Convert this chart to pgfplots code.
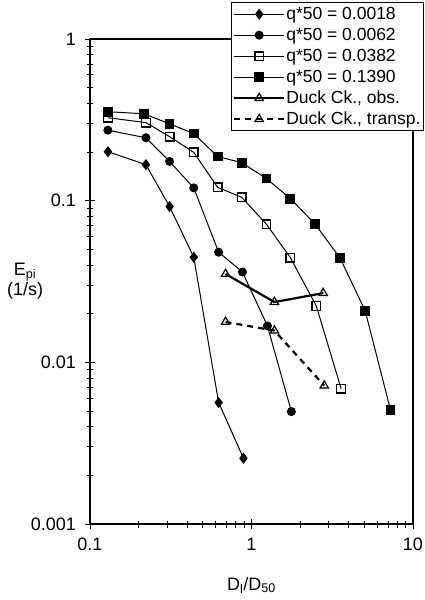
\documentclass[border=0pt]{standalone}
\usepackage{fontspec}
\setmainfont{Liberation Sans}
\usepackage{pgfplots}
\pgfplotsset{compat=1.18}
\begin{document}
\fontsize{18}{20}\selectfont
\begin{tikzpicture}[x=1pt,y=1pt]
\useasboundingbox (0,0) rectangle (425,-600);
\begin{axis}[
  at={(90pt,-524pt)}, anchor=south west,
  width=323pt, height=485pt, scale only axis,
  xmode=log, ymode=log,
  xmin=0.1, xmax=10, ymin=0.001, ymax=1,
  xtick={0.1,1,10}, xticklabels={0.1,1,10},
  ytick={0.001,0.01,0.1,1}, yticklabels={0.001,0.01,0.1,1},
  minor xtick={0.2,0.3,0.4,0.5,0.6,0.7,0.8,0.9,2,3,4,5,6,7,8,9},
  minor ytick={0.002,0.003,0.004,0.005,0.006,0.007,0.008,0.009,0.02,0.03,0.04,0.05,0.06,0.07,0.08,0.09,0.2,0.3,0.4,0.5,0.6,0.7,0.8,0.9},
  tick pos=left, tick align=center,
  major tick length=10pt, minor tick length=7pt,
  every tick/.style={black, line width=0.9pt},
  axis line style={line width=1.1pt},
  tick label style={font=\fontsize{18}{20}\selectfont},
  yticklabel style={xshift=-3pt},
  xticklabel style={yshift=-3pt},
  xlabel={D\textsubscript{l}/D\textsubscript{50}},
  ylabel={E\textsubscript{pi}\\(1/s)},
  every axis x label/.style={at={(axis description cs:0.5,-0.126)}, anchor=center, font=\fontsize{18}{20}\selectfont},
  every axis y label/.style={at={(axis description cs:-0.201,0.501)}, anchor=center, align=center, font=\fontsize{18}{18}\selectfont},
  legend style={at={(1.034,1.076)}, anchor=north east, draw=black, line width=1pt, fill=white,
    font=\fontsize{17.5}{18}\selectfont, inner xsep=2pt, inner ysep=1pt,
    nodes={text height=15pt, text depth=4pt, inner sep=1pt}, row sep=0pt},
  legend cell align=left,
  legend image code/.code={\draw[mark repeat=2,mark phase=2,#1] plot coordinates {(0pt,0pt) (25pt,0pt) (50pt,0pt)};},
]
\addplot[black, line width=1pt, mark=diamond*, mark size=4.8pt, mark options={solid}] coordinates {
(0.129,0.201) (0.222,0.167) (0.311,0.092) (0.439,0.0447) (0.626,0.00564) (0.892,0.00255)};
\addlegendentry{q*50 = 0.0018}
\addplot[black, line width=1pt, mark=*, mark size=4pt, mark options={solid}] coordinates {
(0.129,0.273) (0.222,0.245) (0.311,0.175) (0.439,0.120) (0.626,0.048) (0.879,0.0362) (1.255,0.0168) (1.766,0.00496)};
\addlegendentry{q*50 = 0.0062}
\addplot[black, line width=1pt, mark=square, mark size=4.3pt, mark options={solid, fill=white, line width=1.3pt}] coordinates {
(0.129,0.326) (0.222,0.304) (0.311,0.249) (0.439,0.199) (0.617,0.121) (0.869,0.105) (1.238,0.0715) (1.741,0.0444) (2.52,0.0223) (3.59,0.00687)};
\addlegendentry{q*50 = 0.0382}
\addplot[black, line width=1pt, mark=square*, mark size=4.4pt, mark options={solid}] coordinates {
(0.129,0.355) (0.215,0.345) (0.311,0.299) (0.439,0.260) (0.617,0.1875) (0.869,0.172) (1.238,0.137) (1.741,0.103) (2.48,0.0715) (3.54,0.0441) (5.06,0.0208) (7.26,0.00507)};
\addlegendentry{q*50 = 0.1390}
\addplot[black, line width=2.2pt, mark=triangle, mark size=4.8pt, mark options={solid, fill=white, line width=1.2pt}] coordinates {
(0.691,0.0352) (1.387,0.0236) (2.78,0.0268)};
\addlegendentry{Duck Ck., obs.}
\addplot[black, line width=2.2pt, dash pattern=on 6pt off 5pt, mark=triangle, mark size=4.8pt, mark options={solid, fill=white, line width=1.2pt}] coordinates {
(0.691,0.0178) (1.387,0.0157) (2.82,0.00718)};
\addlegendentry{Duck Ck., transp.}
\end{axis}
\end{tikzpicture}
\end{document}
